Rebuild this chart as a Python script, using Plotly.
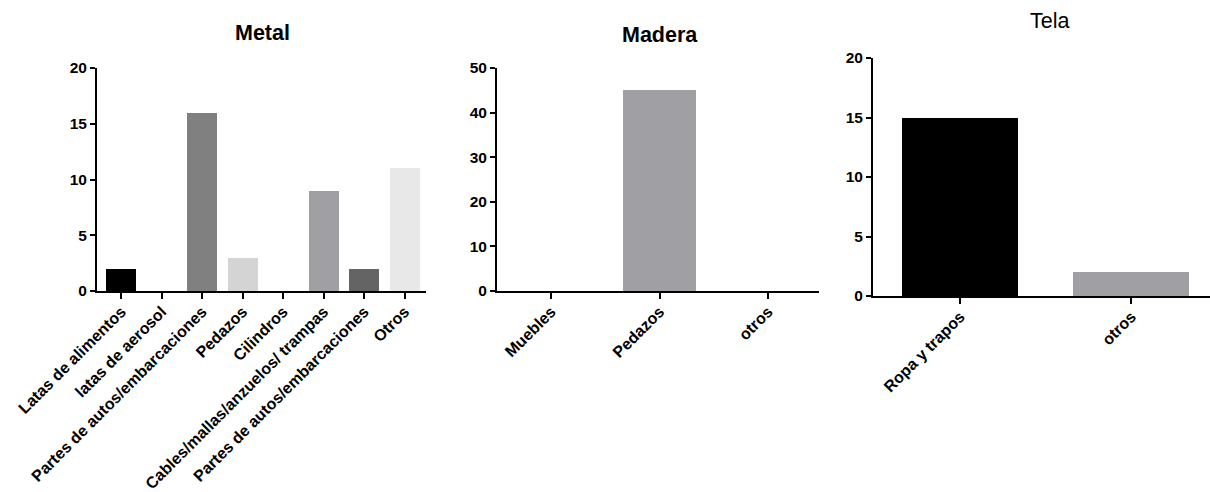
import plotly.graph_objects as go

metal_cats = ["Latas de alimentos", "latas de aerosol", "Partes de autos/embarcaciones",
              "Pedazos", "Cilindros", "Cables/mallas/anzuelos/ trampas",
              "Partes de autos/embarcaciones", "Otros"]
metal_vals = [2, 0, 16, 3, 0, 9, 2, 11]
metal_colors = ["#000000", "#a0a0a4", "#808080", "#d4d4d4", "#c0c0c0", "#a0a0a4", "#646464", "#e8e8e8"]

madera_cats = ["Muebles", "Pedazos", "otros"]
madera_vals = [0, 45, 0]
madera_colors = ["#000000", "#a0a0a4", "#808080"]

tela_cats = ["Ropa y trapos", "otros"]
tela_vals = [15, 2]
tela_colors = ["#000000", "#a0a0a4"]

W, H = 1210, 492
FONT = "Liberation Sans, Arial, sans-serif"

fig = go.Figure()

def px_x(a, b):
    return [a / W, b / W]

def px_y(top, bottom):
    return [1 - bottom / H, 1 - top / H]

panels = [
    ("Metal", True, metal_cats, metal_vals, metal_colors, 0.74, px_x(97, 426), px_y(68, 291), [-0.6, 7.53], [0, 20], 5, 262, 33),
    ("Madera", True, madera_cats, madera_vals, madera_colors, 0.68, px_x(497, 819), px_y(68, 291), [-0.5, 2.47], [0, 50], 10, 660, 35),
    ("Tela", False, tela_cats, tela_vals, tela_colors, 0.68, px_x(873, 1210), px_y(58, 296), [-0.51, 1.46], [0, 20], 5, 1049, 21),
]

layout = {}
annotations = []
for i, (title, bold, cats, vals, cols, bw, xd, yd, xr, yr, dt, tx, ty) in enumerate(panels):
    n = i + 1
    xa = "x" if n == 1 else f"x{n}"
    ya = "y" if n == 1 else f"y{n}"
    idx = list(range(len(cats)))
    fig.add_trace(go.Bar(x=idx, y=vals, marker=dict(color=cols, line=dict(width=0)),
                         width=bw, xaxis=xa, yaxis=ya, showlegend=False))
    layout[f"xaxis{'' if n == 1 else n}"] = dict(
        domain=xd, range=xr, anchor=ya, tickmode="array", tickvals=idx, ticktext=cats,
        tickangle=-45, ticks="outside", ticklen=6, tickwidth=2, tickcolor="#000",
        showline=True, linecolor="#000", linewidth=2, showgrid=False, zeroline=False,
        automargin=False, fixedrange=True, ticklabelstandoff=-3,
        tickfont=dict(family=FONT, size=16, color="#000", weight="bold"))
    layout[f"yaxis{'' if n == 1 else n}"] = dict(
        domain=yd, range=yr, anchor=xa, tick0=0, dtick=dt, ticks="outside", ticklen=5,
        tickwidth=2, tickcolor="#000", showline=True, linecolor="#000", linewidth=2,
        showgrid=False, zeroline=False, automargin=False, fixedrange=True,
        tickfont=dict(family=FONT, size=15.5, color="#000", weight="bold"))
    annotations.append(dict(text=f"<b>{title}</b>" if bold else title, x=tx / W, y=1 - ty / H,
                            xref="paper", yref="paper",
                            xanchor="center", yanchor="middle", showarrow=False,
                            font=dict(family=FONT, size=21.5, color="#000")))

fig.update_layout(width=W, height=H, autosize=False, margin=dict(l=0, r=0, t=0, b=0),
                  paper_bgcolor="white", plot_bgcolor="white", annotations=annotations,
                  bargap=0, **layout)

fig.write_html("out.html")
